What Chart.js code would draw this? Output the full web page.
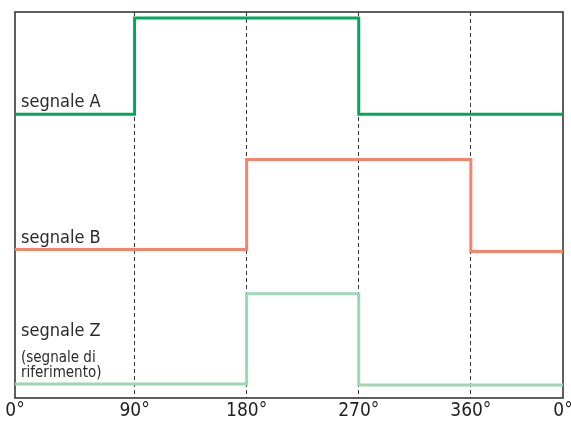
<!DOCTYPE html>
<html>
<head>
<meta charset="utf-8">
<script src="https://cdn.jsdelivr.net/npm/chart.js@4"></script>
<style>
  body { margin: 0; background: #fff; }
  #wrap { width: 571px; height: 425px; }
</style>
</head>
<body>
<div id="wrap"><canvas id="myChart"></canvas></div>
<script>
// phase axis (degrees); the drawing runs a little before 0° and stops before 450°
const xStart = -6;
const xEnd = 434;
const tickValues = [-6, 90, 180, 270, 360, 434];
const tickLabels = ['0°', '90°', '180°', '270°', '360°', '0°'];

// step points: level changes at each x
const phaseA = [xStart, 90, 270, xEnd];
const levelA = [283, 379, 283, 283];
const phaseB = [xStart, 180, 360, xEnd];
const levelB = [148, 238, 146, 146];
const phaseZ = [xStart, 180, 270, xEnd];
const levelZ = [14, 104, 13, 13];

const signalNames = [
    ['segnale A'],
    ['segnale B'],
    ['segnale Z', '(segnale di', 'riferimento)']
];
const signalColors = ['#00a859', '#f5846a', '#9dd6b6'];

var toPoints = function (xs, ys) {
    return xs.map(function (x, i) { return { x: x, y: ys[i] }; });
}

const fontFam = '"Liberation Sans Narrow", "DejaVu Sans Condensed", sans-serif';

const boxPlugin = {
    id: 'box',
    beforeDatasetsDraw: function (chart) {
        const a = chart.chartArea;
        const c = chart.ctx;
        c.save();
        c.strokeStyle = '#2b2b2b';
        c.lineWidth = 1.5;
        c.strokeRect(a.left, a.top, a.right - a.left, a.bottom - a.top);
        c.restore();
    },
    afterDatasetsDraw: function (chart) {
        const c = chart.ctx;
        const a = chart.chartArea;
        const ys = chart.scales.y;
        c.save();
        c.fillStyle = '#2b2b2b';
        c.textAlign = 'left';
        c.textBaseline = 'alphabetic';
        chart.data.datasets.forEach(function (ds, i) {
            var base = ys.getPixelForValue(ds.data[0].y) - 7;
            var lines = signalNames[i];
            for (var k = lines.length - 1; k >= 0; k--) {
                c.font = (k === 0 ? '18px ' : '15px ') + fontFam;
                c.fillText(lines[k], a.left + 6, base);
                base -= (k === 1 ? 26 : 15);
            }
        });
        c.restore();
    }
};

const ctx = document.getElementById('myChart');
const myChart = new Chart(ctx, {
    type: 'line',
    data: {
        datasets: [
            { data: toPoints(phaseA, levelA), borderColor: signalColors[0] },
            { data: toPoints(phaseB, levelB), borderColor: signalColors[1] },
            { data: toPoints(phaseZ, levelZ), borderColor: signalColors[2] }
        ]
    },
    options: {
        responsive: true,
        maintainAspectRatio: false,
        animation: false,
        layout: { padding: { left: 15, right: 8, top: 12, bottom: 0 } },
        elements: {
            line: { stepped: 'before', borderWidth: 3, fill: false },
            point: { radius: 0 }
        },
        plugins: {
            legend: { display: false },
            tooltip: { enabled: false }
        },
        scales: {
            x: {
                type: 'linear',
                min: xStart,
                max: xEnd,
                afterBuildTicks: function (axis) {
                    axis.ticks = tickValues.map(function (v) { return { value: v }; });
                },
                afterFit: function (axis) {
                    axis.paddingLeft = 0;
                    axis.paddingRight = 0;
                },
                border: { display: false, dash: [4, 3] },
                grid: {
                    drawTicks: false,
                    lineWidth: 1,
                    color: function (context) {
                        var last = tickValues.length - 1;
                        return (context.index === 0 || context.index === last) ? 'rgba(0,0,0,0)' : '#3a3a3a';
                    }
                },
                ticks: {
                    autoSkip: false,
                    maxRotation: 0,
                    padding: 4,
                    color: '#231f20',
                    font: { size: 19, family: fontFam, lineHeight: 1 },
                    callback: function (value, index) {
                        return tickLabels[index];
                    }
                }
            },
            y: {
                display: false,
                min: 0,
                max: 385
            }
        }
    },
    plugins: [boxPlugin]
});
</script>
</body>
</html>
